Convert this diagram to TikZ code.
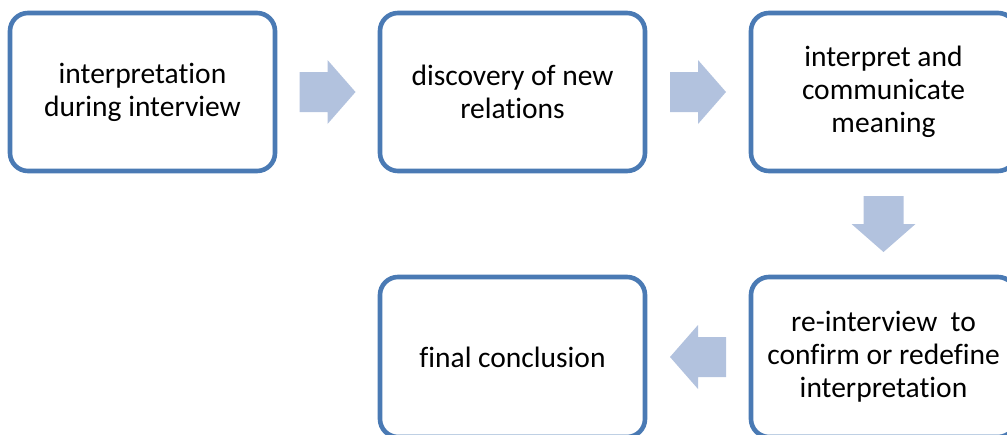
\documentclass[tikz,border=0pt]{standalone}
\usepackage{fontspec}
\setmainfont{Carlito}[Ligatures={NoCommon}]
\usetikzlibrary{calc}
\definecolor{boxline}{RGB}{74,122,180}
\definecolor{arrowfill}{RGB}{178,194,222}
\begin{document}
\begin{tikzpicture}[x=1pt,y=-1pt,
  stepbox/.style={draw=boxline, line width=4.6pt, rounded corners=18pt, fill=white,
    minimum width=265pt, minimum height=158pt, inner sep=0pt, align=center,
    font=\fontsize{29.5}{33}\selectfont},
  blockarrow/.style={fill=arrowfill, draw=none}]
  \useasboundingbox (0,0) rectangle (1007,434);
  \node[stepbox] (b1) at (142.5,92) {interpretation\\during interview};
  \node[stepbox] (b2) at (512.5,92) {discovery of new\\relations};
  \node[stepbox] (b3) at (883.5,92) {interpret and\\communicate\\meaning};
  \node[stepbox, minimum height=160pt] (b5) at (883.5,357) {re-interview\ \ to\\confirm or redefine\\interpretation};
  \node[stepbox, minimum height=160pt] (b4) at (512.5,357) {final conclusion};
  % centres of the gaps between consecutive steps
  \coordinate (m1) at ($(b1.east)!0.5!(b2.west)$);
  \coordinate (m2) at ($(b2.east)!0.5!(b3.west)$);
  \coordinate (m3) at ($(b3.south)!0.5!(b5.north)$);
  \coordinate (m4) at ($(b5.west)!0.5!(b4.east)$);
  % block arrows: body half-width 20, head half-width 32, length 56
  \foreach \m in {m1,m2}
    \fill[blockarrow] ($(\m)+(-28,-20)$) -- ($(\m)+(0,-20)$) -- ($(\m)+(0,-32)$)
      -- ($(\m)+(28,0)$) -- ($(\m)+(0,32)$) -- ($(\m)+(0,20)$) -- ($(\m)+(-28,20)$) -- cycle;
  \fill[blockarrow] ($(m3)+(-20,-28)$) -- ($(m3)+(-20,0)$) -- ($(m3)+(-32,0)$)
    -- ($(m3)+(0,28)$) -- ($(m3)+(32,0)$) -- ($(m3)+(20,0)$) -- ($(m3)+(20,-28)$) -- cycle;
  \fill[blockarrow] ($(m4)+(28,-20)$) -- ($(m4)+(0,-20)$) -- ($(m4)+(0,-32)$)
    -- ($(m4)+(-28,0)$) -- ($(m4)+(0,32)$) -- ($(m4)+(0,20)$) -- ($(m4)+(28,20)$) -- cycle;
\end{tikzpicture}
\end{document}
